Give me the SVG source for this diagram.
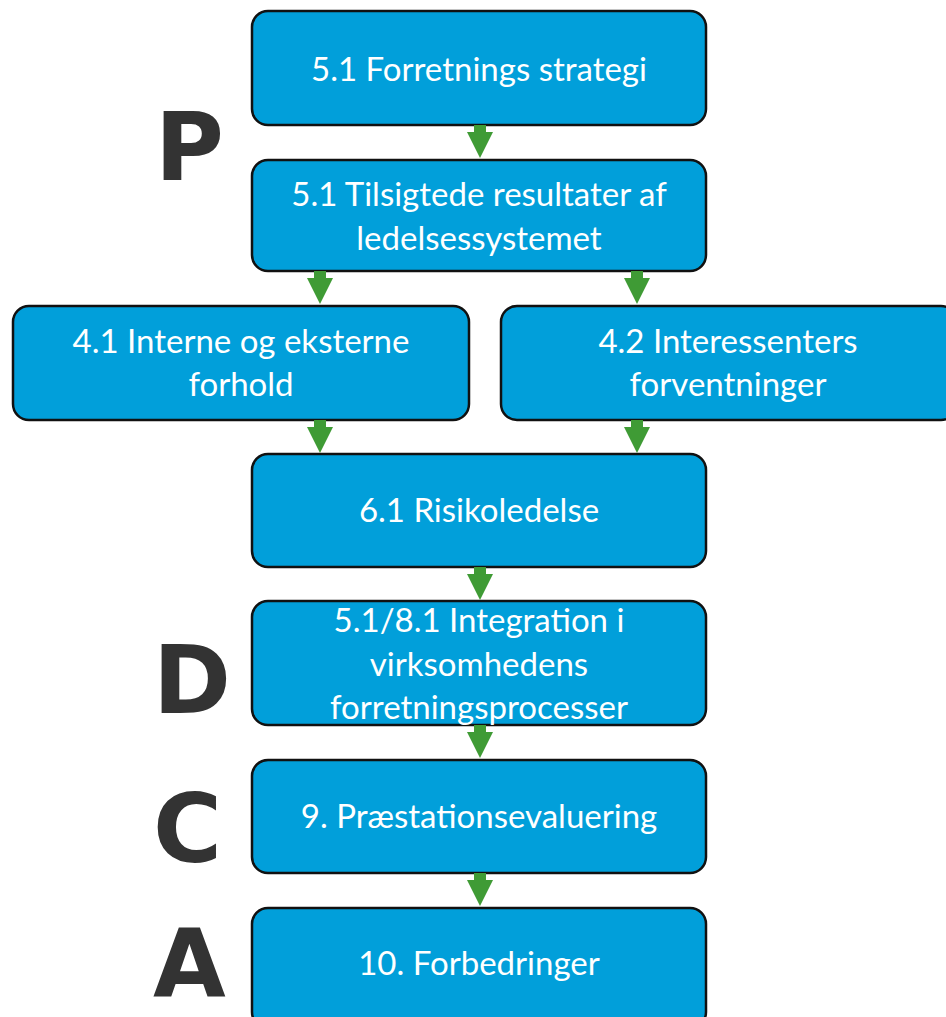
<svg xmlns="http://www.w3.org/2000/svg" width="946" height="1017" viewBox="0 0 946 1017">
<style>
.box{fill:#019fda;stroke:#111;stroke-width:2.5}
.t{font-family:Lato,"Open Sans",sans-serif;font-size:33px;fill:#fff;text-anchor:middle}
.big{font-family:"DejaVu Sans",sans-serif;font-weight:bold;font-size:94px;fill:#333}
.arr{fill:#3f9b35}
</style>
<defs>
<path id="ar" d="M-6,0 H6 V7 H13 L0,33 L-13,7 H-6 Z"/>
</defs>
<rect width="946" height="1017" fill="#fff"/>
<g id="letters">
<text class="big" x="155" y="180">P</text>
<text class="big" x="153" y="713">D</text>
<text class="big" x="153" y="862">C</text>
<text class="big" x="153" y="997">A</text>
</g>
<g id="n1"><rect class="box" x="252" y="11" width="454" height="114" rx="16"/><text class="t" x="479" y="81">5.1 Forretnings strategi</text></g>
<g id="n2"><rect class="box" x="252" y="160" width="454" height="111" rx="16"/><text class="t" x="479" y="206">5.1 Tilsigtede resultater af</text><text class="t" x="479" y="250">ledelsessystemet</text></g>
<g id="n3"><rect class="box" x="13" y="306" width="456" height="114" rx="16"/><text class="t" x="241" y="353">4.1 Interne og eksterne</text><text class="t" x="241" y="396">forhold</text></g>
<g id="n4"><rect class="box" x="501" y="306" width="456" height="114" rx="16"/><text class="t" x="728" y="353">4.2 Interessenters</text><text class="t" x="728" y="396">forventninger</text></g>
<g id="n5"><rect class="box" x="252" y="454" width="454" height="113" rx="16"/><text class="t" x="479" y="522">6.1 Risikoledelse</text></g>
<g id="n6"><rect class="box" x="252" y="601" width="454" height="124" rx="16"/><text class="t" x="479" y="632">5.1/8.1 Integration i</text><text class="t" x="479" y="676">virksomhedens</text><text class="t" x="479" y="719">forretningsprocesser</text></g>
<g id="n7"><rect class="box" x="252" y="760" width="454" height="113" rx="16"/><text class="t" x="479" y="828">9. Præstationsevaluering</text></g>
<g id="n8"><rect class="box" x="252" y="908" width="454" height="120" rx="16"/><text class="t" x="479" y="975">10. Forbedringer</text></g>
<g id="connectors" class="arr">
<use href="#ar" x="480" y="125"/>
<use href="#ar" x="320" y="271"/>
<use href="#ar" x="637" y="271"/>
<use href="#ar" x="320" y="420"/>
<use href="#ar" x="637" y="420"/>
<use href="#ar" x="480" y="567"/>
<use href="#ar" x="480" y="725"/>
<use href="#ar" x="480" y="873"/>
</g>
</svg>
